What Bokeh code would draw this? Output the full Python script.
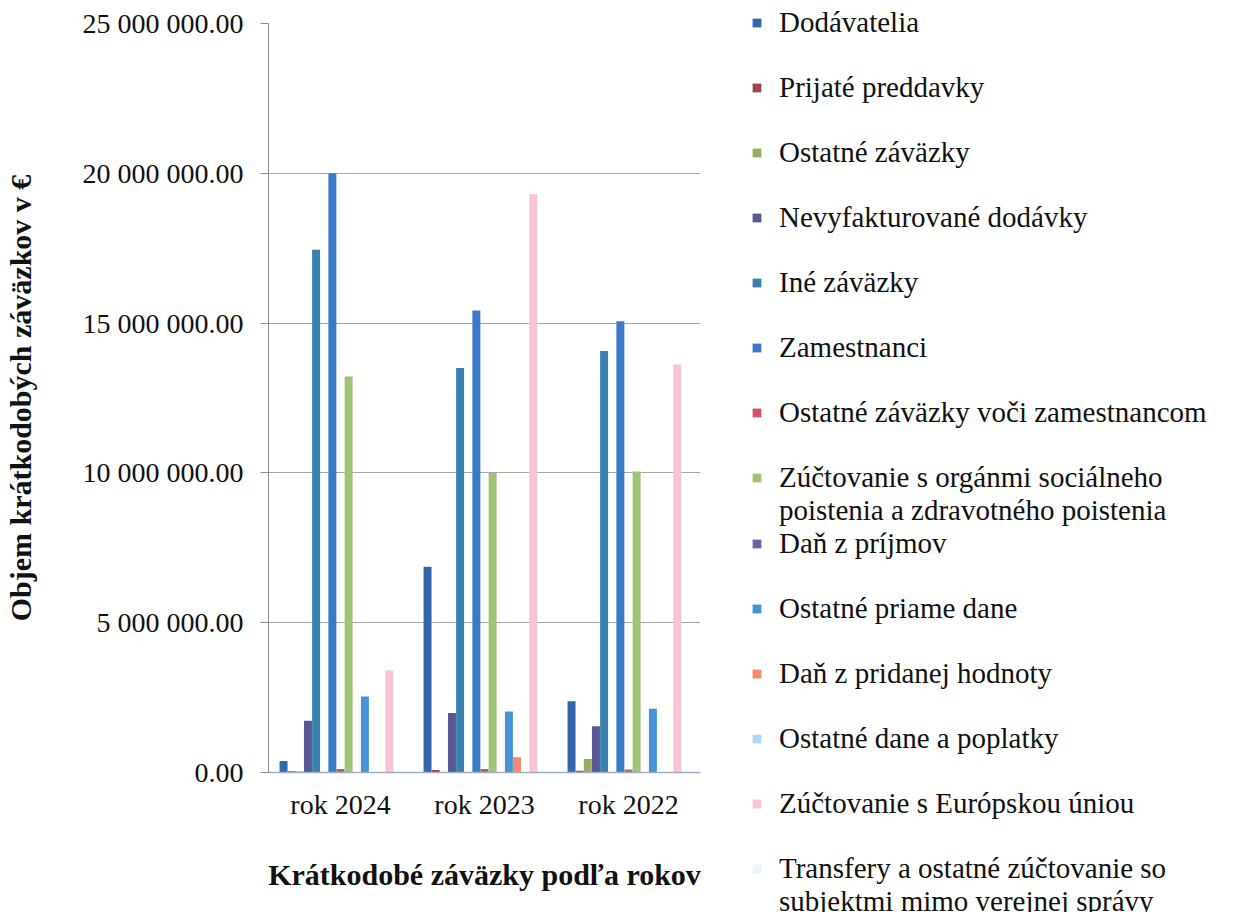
from bokeh.plotting import figure
from bokeh.models import (FactorRange, Range1d, FixedTicker, ColumnDataSource,
                          Legend, LegendItem)
from bokeh.transform import dodge
from bokeh.layouts import row
from bokeh.embed import file_html
from bokeh.resources import INLINE

# ---------------- data ----------------
years = ["rok 2024", "rok 2023", "rok 2022"]

series_names = [
    "Dodávatelia",
    "Prijaté preddavky",
    "Ostatné záväzky",
    "Nevyfakturované dodávky",
    "Iné záväzky",
    "Zamestnanci",
    "Ostatné záväzky voči zamestnancom",
    "Zúčtovanie s orgánmi sociálneho\npoistenia a zdravotného poistenia",
    "Daň z príjmov",
    "Ostatné priame dane",
    "Daň z pridanej hodnoty",
    "Ostatné dane a poplatky",
    "Zúčtovanie s Európskou úniou",
    "Transfery a ostatné zúčtovanie so\nsubjektmi mimo verejnej správy",
]

dodavatelia = [380_000, 6_870_000, 2_380_000]
prijate_preddavky = [40_000, 80_000, 60_000]
ostatne_zavazky = [30_000, 20_000, 450_000]
nevyfakturovane = [1_730_000, 1_990_000, 1_540_000]
ine_zavazky = [17_450_000, 13_500_000, 14_070_000]
zamestnanci = [20_000_000, 15_420_000, 15_060_000]
ostatne_voci_zam = [120_000, 120_000, 100_000]
zuctovanie_sp_zp = [13_220_000, 10_000_000, 10_050_000]
dan_z_prijmov = [10_000, 10_000, 10_000]
ostatne_priame_dane = [2_540_000, 2_040_000, 2_130_000]
dph = [20_000, 510_000, 20_000]
ostatne_dane = [10_000, 10_000, 10_000]
zuctovanie_eu = [3_410_000, 19_300_000, 13_620_000]
transfery = [5_000, 5_000, 5_000]

series_values = [
    dodavatelia, prijate_preddavky, ostatne_zavazky, nevyfakturovane,
    ine_zavazky, zamestnanci, ostatne_voci_zam, zuctovanie_sp_zp,
    dan_z_prijmov, ostatne_priame_dane, dph, ostatne_dane,
    zuctovanie_eu, transfery,
]

colors = [
    "#3467A8", "#A0434E", "#93AE5E", "#555A93", "#3A80AE", "#3A78C8",
    "#CF5468", "#A2C274", "#6466A5", "#4593D6", "#F7896A", "#AED8F8",
    "#FBC4D6", "#E6F7FB",
]

y_ticks = [0, 5_000_000, 10_000_000, 15_000_000, 20_000_000, 25_000_000]
y_tick_labels = ["0.00", "5 000 000.00", "10 000 000.00", "15 000 000.00",
                 "20 000 000.00", "25 000 000.00"]

x_title = "Krátkodobé záväzky podľa rokov"
y_title = "Objem krátkodobých záväzkov v €"

# ---------------- chart ----------------
FONT = "Liberation Serif"
H = 904
TOP, FRAME_H = 23, 749
BOTTOM = H - TOP - FRAME_H

data = {"year": years}
for i, vals in enumerate(series_values):
    data[f"s{i}"] = vals
src = ColumnDataSource(data)

p = figure(
    x_range=FactorRange(*years), y_range=Range1d(0, 25_000_000),
    width=720, height=H, output_backend="svg", toolbar_location=None,
    min_border_left=260, min_border_right=20,
    min_border_top=TOP, min_border_bottom=BOTTOM,
)

# the source chart's clusters have 15 slots; slot 5 is empty
n_slots = 15
pitch = 1.0 / 17.7
for i, name in enumerate(series_names):
    slot = i if i < 5 else i + 1
    offset = (slot - (n_slots - 1) / 2) * pitch
    p.vbar(x=dodge("year", offset, range=p.x_range), top=f"s{i}",
           width=pitch * 0.98, source=src, fill_color=colors[i],
           line_color=None)

p.outline_line_color = None
p.xgrid.visible = False
p.ygrid.grid_line_color = "#A6A6A6"
p.ygrid.grid_line_width = 1.2
p.yaxis.ticker = FixedTicker(ticks=y_ticks)
p.ygrid.ticker = FixedTicker(ticks=y_ticks)
p.yaxis.major_label_overrides = dict(zip(y_ticks, y_tick_labels))

for ax in (p.xaxis[0], p.yaxis[0]):
    ax.major_label_text_font = FONT
    ax.major_label_text_font_size = "28px"
    ax.major_label_text_color = "#111111"
    ax.axis_label_text_font = FONT
    ax.axis_label_text_font_size = "30px"
    ax.axis_label_text_font_style = "bold"
    ax.axis_label_text_color = "#111111"
    ax.minor_tick_line_color = None

p.yaxis.axis_label = y_title
p.yaxis.axis_line_color = "#8C8C8C"
p.yaxis.major_tick_line_color = "#8C8C8C"
p.yaxis.major_tick_out = 8
p.yaxis.major_tick_in = 0
p.yaxis.major_label_standoff = 17
p.yaxis.axis_label_standoff = 43

p.xaxis.axis_label = x_title
p.xaxis.axis_line_color = "#9FB0C4"
p.xaxis.axis_line_width = 1.5
p.xaxis.major_tick_line_color = None
p.xaxis.major_label_standoff = 10
p.xaxis.axis_label_standoff = 35

# ---------------- legend (its own panel to the right) ----------------
lg = figure(width=502, height=H, output_backend="svg", toolbar_location=None,
            min_border_left=0, min_border_right=0,
            min_border_top=TOP, min_border_bottom=BOTTOM,
            x_axis_type=None, y_axis_type=None)
lg.grid.visible = False
lg.outline_line_color = None

# swatch renderers for the legend (zero-height, never visible)
swatch_src = ColumnDataSource(dict(x=[0], top=[0]))
swatches = [lg.vbar(x="x", top="top", width=0.5, source=swatch_src,
                    fill_color=c, line_color=None) for c in colors]

# rows of text: each entry takes two rows (text + blank row);
# a wrapped entry uses its blank row for the second line
items = []
for i, (name, r) in enumerate(zip(series_names, swatches)):
    lines = name.split("\n")
    items.append(LegendItem(label=lines[0], renderers=[r]))
    if len(lines) > 1:
        items.append(LegendItem(label=lines[1], renderers=[]))
    elif i < len(series_names) - 1:
        items.append(LegendItem(label="", renderers=[]))

ROW_H = 32
legend_h = len(items) * ROW_H
legend_top = 22
frame_bottom = TOP + FRAME_H
legend = Legend(
    items=items, location=(31, frame_bottom - legend_top - legend_h),
    orientation="vertical",
    glyph_width=11, glyph_height=11, label_standoff=17,
    label_height=ROW_H, spacing=0, margin=0, padding=0,
    border_line_color=None, background_fill_alpha=0.0,
    label_text_font=FONT, label_text_font_size="29px",
    label_text_color="#111111",
)
lg.add_layout(legend, "left")

layout = row(p, lg)
open("out.html", "w").write(file_html(layout, INLINE))
